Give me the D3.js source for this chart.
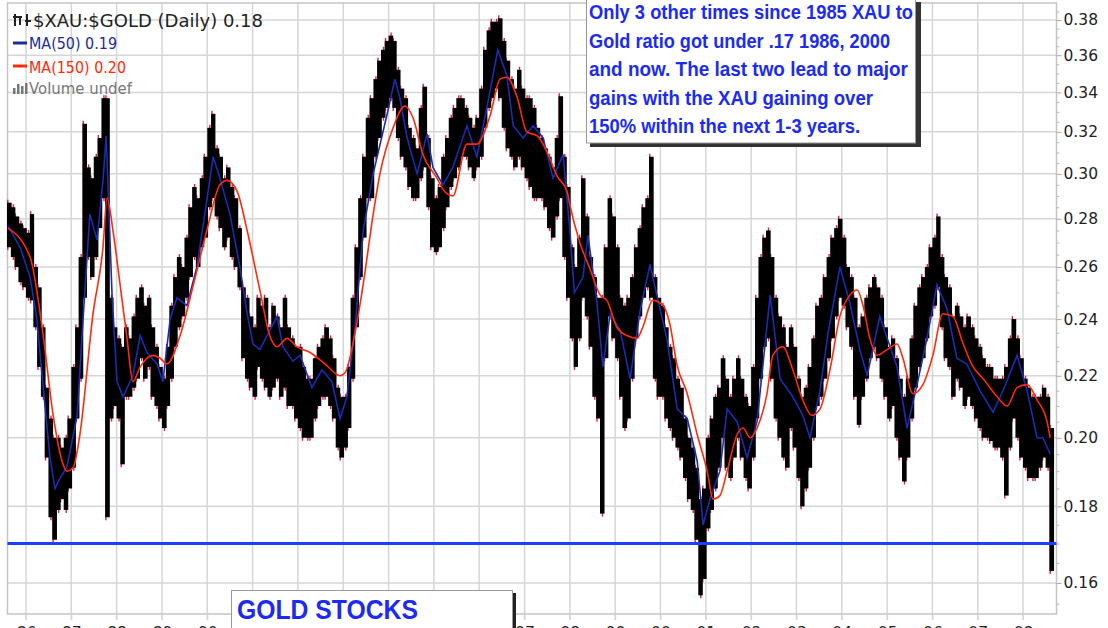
<!DOCTYPE html>
<html>
<head>
<meta charset="utf-8">
<script src="https://cdn.jsdelivr.net/npm/d3@7"></script>
<style>
  body { margin: 0; background: #fff; overflow: hidden; }
  svg { display: block; }
</style>
</head>
<body>
<svg id="chart" width="1108" height="628"></svg>
<script>
// ---- data ----
// monthly high / low of the ratio, first bar = Aug 1985
const firstMonth = new Date(1985, 7, 1);
const highs = [
  0.287, 0.285, 0.281, 0.278, 0.276,                                              // 1985 Aug-Dec
  0.274, 0.282, 0.260, 0.252, 0.237, 0.216, 0.206, 0.200, 0.200, 0.197, 0.200, 0.206, // 1986
  0.223, 0.237, 0.264, 0.324, 0.303, 0.298, 0.308, 0.317, 0.337, 0.337, 0.248, 0.237, // 1987
  0.233, 0.230, 0.237, 0.233, 0.241, 0.248, 0.252, 0.245, 0.248, 0.237, 0.230, 0.223, // 1988
  0.219, 0.230, 0.245, 0.256, 0.264, 0.260, 0.272, 0.285, 0.294, 0.289, 0.298, 0.308, // 1989
  0.322, 0.329, 0.312, 0.308, 0.298, 0.303, 0.294, 0.289, 0.276, 0.252, 0.248, 0.241, // 1990
  0.237, 0.248, 0.245, 0.248, 0.237, 0.245, 0.241, 0.237, 0.248, 0.237, 0.233, 0.230, // 1991
  0.230, 0.223, 0.219, 0.219, 0.226, 0.230, 0.233, 0.237, 0.233, 0.226, 0.216, 0.213, // 1992
  0.213, 0.223, 0.248, 0.268, 0.289, 0.308, 0.327, 0.337, 0.347, 0.357, 0.363, 0.368, // 1993
  0.371, 0.368, 0.352, 0.342, 0.337, 0.322, 0.317, 0.312, 0.332, 0.343, 0.317, 0.298, // 1994
  0.289, 0.294, 0.308, 0.317, 0.327, 0.332, 0.337, 0.337, 0.332, 0.327, 0.322, 0.327, // 1995
  0.342, 0.363, 0.374, 0.379, 0.379, 0.381, 0.368, 0.357, 0.347, 0.342, 0.352, 0.342, // 1996
  0.337, 0.337, 0.332, 0.322, 0.317, 0.312, 0.308, 0.303, 0.317, 0.338, 0.308, 0.294, // 1997
  0.268, 0.260, 0.272, 0.298, 0.281, 0.264, 0.256, 0.248, 0.248, 0.268, 0.289, 0.281, // 1998
  0.268, 0.248, 0.245, 0.248, 0.256, 0.268, 0.276, 0.285, 0.289, 0.308, 0.256, 0.248, // 1999
  0.245, 0.237, 0.230, 0.226, 0.219, 0.216, 0.206, 0.200, 0.197, 0.191, 0.182, 0.185, // 2000
  0.200, 0.206, 0.213, 0.216, 0.226, 0.219, 0.213, 0.219, 0.226, 0.219, 0.213, 0.210, // 2001
  0.223, 0.248, 0.264, 0.272, 0.275, 0.264, 0.248, 0.241, 0.237, 0.230, 0.237, 0.230, // 2002
  0.219, 0.213, 0.216, 0.223, 0.233, 0.245, 0.248, 0.256, 0.264, 0.272, 0.276, 0.280, // 2003
  0.272, 0.260, 0.256, 0.248, 0.237, 0.241, 0.248, 0.252, 0.256, 0.252, 0.248, 0.237, // 2004
  0.230, 0.233, 0.226, 0.219, 0.213, 0.219, 0.233, 0.245, 0.252, 0.256, 0.260, 0.268, // 2005
  0.272, 0.281, 0.264, 0.256, 0.252, 0.241, 0.245, 0.241, 0.237, 0.241, 0.237, 0.233, // 2006
  0.230, 0.226, 0.223, 0.223, 0.219, 0.219, 0.219, 0.223, 0.233, 0.240, 0.233, 0.226, // 2007
  0.219, 0.216, 0.213, 0.213, 0.213, 0.216, 0.213, 0.203                              // 2008 Jan-Aug
];
const lows = [
  0.268, 0.264, 0.260, 0.254, 0.252,
  0.248, 0.247, 0.237, 0.223, 0.213, 0.194, 0.177, 0.171, 0.179, 0.182, 0.179, 0.185,
  0.191, 0.206, 0.219, 0.248, 0.264, 0.256, 0.264, 0.276, 0.289, 0.177, 0.206, 0.210,
  0.206, 0.192, 0.213, 0.213, 0.216, 0.219, 0.226, 0.219, 0.223, 0.213, 0.210, 0.206,
  0.203, 0.210, 0.219, 0.230, 0.237, 0.241, 0.248, 0.256, 0.264, 0.260, 0.268, 0.272,
  0.285, 0.289, 0.281, 0.276, 0.268, 0.272, 0.264, 0.260, 0.252, 0.226, 0.219, 0.216,
  0.213, 0.223, 0.219, 0.216, 0.213, 0.216, 0.219, 0.213, 0.216, 0.210, 0.210, 0.206,
  0.203, 0.200, 0.200, 0.200, 0.206, 0.210, 0.213, 0.213, 0.210, 0.206, 0.197, 0.194,
  0.197, 0.203, 0.219, 0.237, 0.256, 0.272, 0.289, 0.289, 0.308, 0.317, 0.327, 0.332,
  0.337, 0.332, 0.317, 0.308, 0.303, 0.294, 0.289, 0.289, 0.298, 0.303, 0.285, 0.268,
  0.266, 0.268, 0.276, 0.285, 0.294, 0.298, 0.303, 0.308, 0.308, 0.303, 0.298, 0.303,
  0.308, 0.322, 0.332, 0.337, 0.342, 0.337, 0.322, 0.312, 0.308, 0.303, 0.308, 0.303,
  0.298, 0.294, 0.289, 0.289, 0.289, 0.285, 0.276, 0.272, 0.281, 0.289, 0.264, 0.248,
  0.233, 0.223, 0.233, 0.248, 0.241, 0.230, 0.213, 0.206, 0.178, 0.226, 0.241, 0.233,
  0.226, 0.213, 0.203, 0.206, 0.219, 0.233, 0.241, 0.248, 0.252, 0.248, 0.219, 0.213,
  0.213, 0.206, 0.203, 0.200, 0.197, 0.194, 0.188, 0.182, 0.179, 0.171, 0.157, 0.161,
  0.174, 0.179, 0.185, 0.191, 0.200, 0.191, 0.188, 0.194, 0.200, 0.194, 0.188, 0.185,
  0.194, 0.206, 0.219, 0.230, 0.233, 0.219, 0.206, 0.200, 0.194, 0.191, 0.203, 0.197,
  0.188, 0.180, 0.185, 0.191, 0.200, 0.210, 0.213, 0.219, 0.226, 0.233, 0.241, 0.248,
  0.245, 0.237, 0.230, 0.213, 0.204, 0.213, 0.219, 0.226, 0.230, 0.226, 0.219, 0.213,
  0.206, 0.210, 0.200, 0.194, 0.187, 0.194, 0.206, 0.216, 0.223, 0.226, 0.233, 0.241,
  0.245, 0.252, 0.237, 0.226, 0.223, 0.213, 0.219, 0.216, 0.210, 0.213, 0.210, 0.206,
  0.203, 0.200, 0.200, 0.199, 0.197, 0.197, 0.194, 0.183, 0.197, 0.206, 0.200, 0.194,
  0.191, 0.188, 0.188, 0.188, 0.191, 0.194, 0.191, 0.163
];

// moving averages, [decimal year, value]
const ma50 = [
  [1985.60,0.277],[1985.87,0.268],[1986.09,0.256],[1986.24,0.240],[1986.38,0.216],[1986.53,0.194],
  [1986.64,0.185],[1986.75,0.188],[1986.90,0.191],[1987.13,0.207],[1987.26,0.240],[1987.41,0.282],
  [1987.57,0.271],[1987.70,0.297],[1987.77,0.318],[1987.90,0.249],[1988.01,0.218],[1988.14,0.213],
  [1988.36,0.220],[1988.52,0.234],[1988.67,0.228],[1988.89,0.224],[1989.02,0.218],[1989.18,0.240],
  [1989.33,0.248],[1989.55,0.245],[1989.77,0.260],[1989.99,0.288],[1990.13,0.308],[1990.28,0.298],
  [1990.50,0.282],[1990.72,0.260],[1990.88,0.242],[1991.01,0.231],[1991.16,0.229],[1991.32,0.234],
  [1991.54,0.241],[1991.67,0.230],[1991.89,0.225],[1992.05,0.227],[1992.31,0.216],[1992.53,0.222],
  [1992.75,0.218],[1992.93,0.206],[1993.08,0.213],[1993.26,0.237],[1993.44,0.275],[1993.66,0.300],
  [1993.97,0.329],[1994.14,0.347],[1994.25,0.337],[1994.41,0.317],[1994.63,0.300],[1994.85,0.319],
  [1994.98,0.303],[1995.20,0.295],[1995.42,0.303],[1995.73,0.323],[1995.95,0.308],[1996.17,0.332],
  [1996.41,0.363],[1996.61,0.349],[1996.75,0.323],[1996.97,0.317],[1997.19,0.323],[1997.41,0.317],
  [1997.63,0.298],[1997.85,0.309],[1998.00,0.275],[1998.10,0.250],[1998.29,0.256],[1998.40,0.273],
  [1998.60,0.246],[1998.73,0.223],[1998.89,0.242],[1999.11,0.236],[1999.33,0.219],[1999.55,0.243],
  [1999.77,0.261],[1999.92,0.249],[2000.14,0.233],[2000.37,0.209],[2000.59,0.206],[2000.81,0.193],
  [2000.94,0.175],[2001.09,0.182],[2001.31,0.190],[2001.47,0.209],[2001.69,0.205],[2001.91,0.194],
  [2002.13,0.205],[2002.42,0.249],[2002.64,0.219],[2002.92,0.213],[2003.14,0.207],[2003.30,0.200],
  [2003.52,0.215],[2003.70,0.235],[2003.96,0.260],[2004.18,0.246],[2004.40,0.229],[2004.56,0.220],
  [2004.84,0.241],[2005.00,0.233],[2005.22,0.223],[2005.44,0.203],[2005.66,0.217],[2005.88,0.233],
  [2006.10,0.253],[2006.32,0.244],[2006.54,0.226],[2006.76,0.224],[2007.05,0.215],[2007.34,0.208],
  [2007.56,0.215],[2007.87,0.227],[2008.09,0.215],[2008.31,0.200],[2008.44,0.200],[2008.60,0.195]
];
const ma150 = [
  [1985.60,0.276],[1986.09,0.264],[1986.38,0.234],[1986.60,0.207],[1986.82,0.192],[1986.90,0.190],
  [1987.04,0.191],[1987.19,0.201],[1987.48,0.242],[1987.70,0.268],[1987.79,0.289],[1987.92,0.275],
  [1988.07,0.254],[1988.23,0.233],[1988.36,0.218],[1988.52,0.223],[1988.80,0.227],[1988.96,0.226],
  [1989.11,0.224],[1989.40,0.234],[1989.68,0.252],[1989.99,0.275],[1990.28,0.295],[1990.44,0.297],
  [1990.66,0.292],[1990.88,0.275],[1991.16,0.251],[1991.38,0.234],[1991.54,0.230],[1991.76,0.233],
  [1991.98,0.230],[1992.27,0.228],[1992.60,0.224],[1992.93,0.220],[1993.04,0.221],[1993.26,0.235],
  [1993.48,0.258],[1993.63,0.278],[1993.81,0.300],[1994.10,0.322],[1994.36,0.333],[1994.54,0.327],
  [1994.76,0.309],[1995.07,0.298],[1995.20,0.293],[1995.42,0.290],[1995.73,0.314],[1995.95,0.314],
  [1996.24,0.328],[1996.46,0.347],[1996.61,0.348],[1996.83,0.338],[1997.05,0.320],[1997.28,0.318],
  [1997.50,0.310],[1997.72,0.299],[1997.94,0.292],[1998.00,0.286],[1998.22,0.270],[1998.45,0.259],
  [1998.67,0.249],[1998.82,0.247],[1999.04,0.237],[1999.26,0.234],[1999.48,0.233],[1999.61,0.237],
  [1999.83,0.247],[2000.06,0.245],[2000.21,0.238],[2000.36,0.224],[2000.59,0.214],[2000.81,0.201],
  [2001.03,0.190],[2001.16,0.182],[2001.31,0.183],[2001.47,0.190],[2001.69,0.201],[2001.82,0.203],
  [2001.98,0.200],[2002.13,0.203],[2002.35,0.214],[2002.48,0.227],[2002.70,0.230],[2002.92,0.222],
  [2003.14,0.212],[2003.34,0.207],[2003.52,0.209],[2003.74,0.222],[2003.96,0.241],[2004.18,0.249],
  [2004.34,0.251],[2004.47,0.245],[2004.62,0.233],[2004.78,0.227],[2005.00,0.229],[2005.22,0.231],
  [2005.35,0.226],[2005.57,0.214],[2005.79,0.217],[2006.01,0.227],[2006.23,0.242],[2006.45,0.241],
  [2006.68,0.231],[2006.90,0.223],[2007.12,0.219],[2007.43,0.213],[2007.65,0.210],[2007.87,0.216],
  [2008.09,0.217],[2008.31,0.212],[2008.53,0.205],[2008.60,0.200]
];

const yearTicks = d3.range(1986, 2009);
const priceTicks = [0.16, 0.18, 0.20, 0.22, 0.24, 0.26, 0.28, 0.30, 0.32, 0.34, 0.36, 0.38];
const refLevel = 0.17;

const legendLines = [
  { text: "$XAU:$GOLD (Daily) 0.18", color: "#222" },
  { text: "MA(50) 0.19", color: "#1c2c9c" },
  { text: "MA(150) 0.20", color: "#ff2a0a" },
  { text: "Volume undef", color: "#777" }
];
const noteLines = [
  "Only 3 other times since 1985 XAU to",
  "Gold ratio got under .17 1986, 2000",
  "and now. The last two lead to major",
  "gains with the XAU gaining over",
  "150% within the next 1-3 years."
];
const stampText = "GOLD STOCKS";

// ---- layout ----
const frame = { left: 7.5, right: 1056.5, top: 3, bottom: 614 };
const uiFont = "'DejaVu Sans', Verdana, sans-serif";
const noteFont = "'Liberation Sans', Arial, sans-serif";

function yearToDate(v) {
  const yr = Math.floor(v);
  const a = new Date(yr, 0, 1), b = new Date(yr + 1, 0, 1);
  return new Date(+a + (v - yr) * (b - a));
}

const x = d3.scaleTime()
  .domain([new Date(1986, 0, 1), new Date(2008, 0, 1)])
  .range([26, 1023]);
const y = d3.scaleLog()
  .domain([0.16, 0.38])
  .range([583, 20]);

const svg = d3.select("#chart");

// grid
const grid = svg.append("g");
grid.selectAll(".vgrid")
  .data(yearTicks)
  .enter()
  .append("line")
  .attr("x1", d => x(new Date(d, 0, 1)))
  .attr("x2", d => x(new Date(d, 0, 1)))
  .attr("y1", frame.top)
  .attr("y2", frame.bottom + 6)
  .attr("stroke", "#d6d6d6")
  .attr("stroke-width", 1.5);
grid.selectAll(".hgrid")
  .data(priceTicks)
  .enter()
  .append("line")
  .attr("x1", frame.left)
  .attr("x2", frame.right)
  .attr("y1", d => y(d))
  .attr("y2", d => y(d))
  .attr("stroke", "#d6d6d6")
  .attr("stroke-width", 1.5);

// frame
svg.append("rect")
  .attr("x", frame.left)
  .attr("y", frame.top)
  .attr("width", frame.right - frame.left)
  .attr("height", frame.bottom - frame.top)
  .attr("fill", "none")
  .attr("stroke", "#c4c4c4")
  .attr("stroke-width", 1.5);

// price bars: red down-day fringe under a black body
const bars = highs.map((h, i) => ({
  d0: d3.timeMonth.offset(firstMonth, i),
  d1: d3.timeMonth.offset(firstMonth, i + 1),
  high: h,
  low: lows[i]
}));
const barG = svg.append("g");
barG.selectAll(".redbar")
  .data(bars)
  .enter()
  .append("line")
  .attr("x1", (d, i) => x(d.d0) + (i % 2 ? 2.5 : 0.8))
  .attr("x2", (d, i) => x(d.d0) + (i % 2 ? 2.5 : 0.8))
  .attr("y1", d => y(d.high) - 3)
  .attr("y2", d => y(d.low) + 3)
  .attr("stroke", "#dc1e46")
  .attr("stroke-width", 1.4);
barG.selectAll(".blackbar")
  .data(bars)
  .enter()
  .append("rect")
  .attr("x", d => x(d.d0))
  .attr("y", d => y(d.high))
  .attr("width", d => x(d.d1) - x(d.d0) + 0.8)
  .attr("height", d => y(d.low) - y(d.high))
  .attr("fill", "#000");

// moving averages
const maLine = d3.line()
  .x(d => x(yearToDate(d[0])))
  .y(d => y(d[1]));
svg.append("path")
  .datum(ma50)
  .attr("d", maLine)
  .attr("fill", "none")
  .attr("stroke", "#1c2cb0")
  .attr("stroke-width", 1.6);
svg.append("path")
  .datum(ma150)
  .attr("d", maLine.curve(d3.curveMonotoneX))
  .attr("fill", "none")
  .attr("stroke", "#ff2a0a")
  .attr("stroke-width", 1.6);

// 0.17 level
svg.append("line")
  .attr("x1", frame.left)
  .attr("x2", frame.right)
  .attr("y1", y(refLevel))
  .attr("y2", y(refLevel))
  .attr("stroke", "#1f3dff")
  .attr("stroke-width", 3);

// right axis
const yAxis = svg.append("g")
  .attr("transform", `translate(${frame.right},0)`)
  .call(d3.axisRight(y).tickValues(priceTicks).tickFormat(d3.format(".2f")).tickSize(5).tickPadding(2));
yAxis.select(".domain").remove();
yAxis.selectAll("line").attr("stroke", "#aaa");
yAxis.selectAll("text")
  .attr("fill", "#222")
  .style("font-family", uiFont)
  .style("font-size", "15.5px");
const minorTicks = d3.range(0.155, 0.3875, 0.005).filter(v => !priceTicks.some(p => Math.abs(p - v) < 1e-6));
svg.append("g")
  .attr("transform", `translate(${frame.right},0)`)
  .call(d3.axisRight(y).tickValues(minorTicks).tickFormat("").tickSize(3))
  .call(g => g.select(".domain").remove())
  .selectAll("line").attr("stroke", "#bbb");

// bottom axis (mostly cut off by the window edge, as in the source)
const xAxis = svg.append("g")
  .attr("transform", `translate(0,${frame.bottom})`)
  .call(d3.axisBottom(x).tickValues(yearTicks.map(d => new Date(d, 0, 1)))
    .tickFormat(d3.timeFormat("%y")).tickSize(6).tickPadding(7));
xAxis.select(".domain").remove();
xAxis.selectAll("line").attr("stroke", "#d6d6d6");
xAxis.selectAll("text")
  .attr("fill", "#222")
  .style("font-family", uiFont)
  .style("font-size", "15.5px");

// legend
const legend = svg.append("g").style("font-family", uiFont);
const legendBase = [27, 49, 73, 94];
const legendSize = [18, 15.5, 15.5, 15.5];
const legendX = [33, 29, 29, 29];
const legendW = [230, 88, 97, 103];
legend.selectAll("text")
  .data(legendLines)
  .enter()
  .append("text")
  .attr("x", (d, i) => legendX[i])
  .attr("y", (d, i) => legendBase[i])
  .attr("fill", d => d.color)
  .attr("textLength", (d, i) => legendW[i])
  .attr("lengthAdjust", "spacingAndGlyphs")
  .style("font-size", (d, i) => legendSize[i] + "px")
  .text(d => d.text);
// OHLC glyph
const glyph = legend.append("g").attr("stroke", "#222").attr("stroke-width", 2);
[[15, 14, 26], [20, 16, 25], [27, 14, 26]].forEach(([gx, t, b]) => {
  glyph.append("line").attr("x1", gx).attr("x2", gx).attr("y1", t).attr("y2", b);
});
glyph.append("line").attr("x1", 13).attr("x2", 22).attr("y1", 17).attr("y2", 17);
glyph.append("line").attr("x1", 25).attr("x2", 31).attr("y1", 21).attr("y2", 21);
legend.append("line").attr("x1", 13).attr("x2", 27).attr("y1", 43).attr("y2", 43)
  .attr("stroke", "#1c2c9c").attr("stroke-width", 3);
legend.append("line").attr("x1", 13).attr("x2", 27).attr("y1", 66).attr("y2", 66)
  .attr("stroke", "#ff2a0a").attr("stroke-width", 3);
[[13, 88], [17, 84], [21, 86], [25, 83]].forEach(([bx, by]) => {
  legend.append("rect").attr("x", bx).attr("y", by).attr("width", 2.5).attr("height", 94 - by).attr("fill", "#777");
});

// annotation box
const note = svg.append("g");
note.append("rect").attr("x", 590).attr("y", 2).attr("width", 331).attr("height", 145).attr("fill", "#333");
note.append("rect").attr("x", 586.5).attr("y", -2).attr("width", 329).attr("height", 145)
  .attr("fill", "#fff").attr("stroke", "#999").attr("stroke-width", 1);
const noteWidths = [324, 301, 319, 284, 271];
note.selectAll("text")
  .data(noteLines)
  .enter()
  .append("text")
  .attr("x", 589)
  .attr("y", (d, i) => 19 + i * 28.6)
  .attr("fill", "#1c2bf2")
  .attr("textLength", (d, i) => noteWidths[i])
  .attr("lengthAdjust", "spacingAndGlyphs")
  .style("font-family", noteFont)
  .style("font-weight", "bold")
  .style("font-size", "21px")
  .text(d => d);

// GOLD STOCKS stamp
const stamp = svg.append("g");
stamp.append("rect").attr("x", 234).attr("y", 593).attr("width", 282).attr("height", 50).attr("fill", "#222");
stamp.append("rect").attr("x", 231.5).attr("y", 590.5).attr("width", 281).attr("height", 50)
  .attr("fill", "#fff").attr("stroke", "#999").attr("stroke-width", 1);
stamp.append("text")
  .attr("x", 237)
  .attr("y", 619)
  .attr("fill", "#1c2bf2")
  .attr("textLength", 181)
  .attr("lengthAdjust", "spacingAndGlyphs")
  .style("font-family", noteFont)
  .style("font-weight", "bold")
  .style("font-size", "27px")
  .text(stampText);
</script>
</body>
</html>
